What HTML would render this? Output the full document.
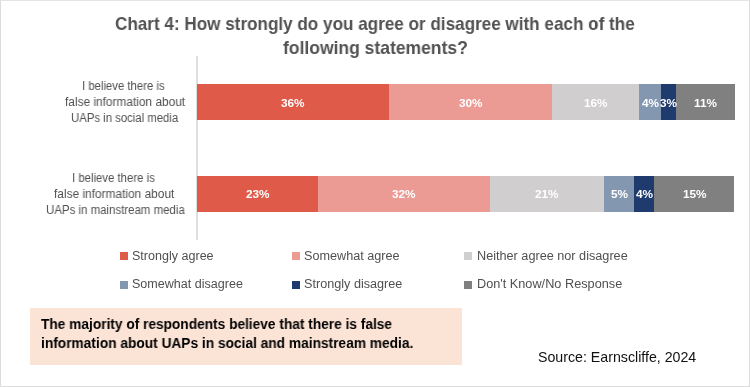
<!DOCTYPE html>
<html><head><meta charset="utf-8"><style>
html,body{margin:0;padding:0;}
body{width:750px;height:387px;position:relative;overflow:hidden;background:#fff;font-family:"Liberation Sans",sans-serif;}
.frame{position:absolute;left:0;top:0;width:748px;height:385px;border:1px solid #dcdcdc;border-top-color:#e4e4e4;}
.r{position:absolute;}
.t{position:absolute;white-space:nowrap;transform-origin:0 0;will-change:transform;}
.axis{position:absolute;left:196px;top:55.5px;width:1.5px;height:184.5px;background:#dedede;}
</style></head><body>
<div class="frame"></div>
<div class="axis"></div>
<div class="r" style="left:197px;top:84px;width:192.00px;height:35.5px;background:#E05A4A"></div>
<div class="r" style="left:389px;top:84px;width:163.00px;height:35.5px;background:#EB9B94"></div>
<div class="r" style="left:552px;top:84px;width:87.00px;height:35.5px;background:#D0CECE"></div>
<div class="r" style="left:639px;top:84px;width:22.20px;height:35.5px;background:#8497B0"></div>
<div class="r" style="left:661.2px;top:84px;width:14.70px;height:35.5px;background:#1F3A6C"></div>
<div class="r" style="left:675.9px;top:84px;width:58.90px;height:35.5px;background:#808080"></div>
<div class="r" style="left:197px;top:176px;width:121.00px;height:35.5px;background:#E05A4A"></div>
<div class="r" style="left:318px;top:176px;width:172.10px;height:35.5px;background:#EB9B94"></div>
<div class="r" style="left:490.1px;top:176px;width:114.20px;height:35.5px;background:#D0CECE"></div>
<div class="r" style="left:604.3px;top:176px;width:29.70px;height:35.5px;background:#8497B0"></div>
<div class="r" style="left:634px;top:176px;width:20.30px;height:35.5px;background:#1F3A6C"></div>
<div class="r" style="left:654.3px;top:176px;width:80.00px;height:35.5px;background:#808080"></div>
<div class="r" style="left:120px;top:252px;width:8px;height:8px;background:#E05A4A"></div>
<div class="r" style="left:292px;top:252px;width:8px;height:8px;background:#EB9B94"></div>
<div class="r" style="left:464px;top:252px;width:8px;height:8px;background:#D0CECE"></div>
<div class="r" style="left:120px;top:280.7px;width:8px;height:8px;background:#8497B0"></div>
<div class="r" style="left:292px;top:280.7px;width:8px;height:8px;background:#1F3A6C"></div>
<div class="r" style="left:464px;top:280.7px;width:8px;height:8px;background:#808080"></div>
<div class="r" style="left:30px;top:308px;width:432px;height:57px;background:#FBE3D6"></div>
<div class="t" style="left:115.00px;top:14.89px;font-size:18.2px;line-height:18.2px;font-weight:bold;color:#525252;transform:scaleX(0.9401);">Chart 4: How strongly do you agree or disagree with each of the</div>
<div class="t" style="left:282.50px;top:39.39px;font-size:18.2px;line-height:18.2px;font-weight:bold;color:#525252;transform:scaleX(0.9625);">following statements?</div>
<div class="t" style="left:82.00px;top:80.14px;font-size:12px;line-height:12px;font-weight:normal;color:#505050;transform:scaleX(0.9451);">I believe there is</div>
<div class="t" style="left:64.50px;top:96.04px;font-size:12px;line-height:12px;font-weight:normal;color:#505050;transform:scaleX(0.9893);">false information about</div>
<div class="t" style="left:71.00px;top:112.44px;font-size:12px;line-height:12px;font-weight:normal;color:#505050;transform:scaleX(0.9453);">UAPs in social media</div>
<div class="t" style="left:72.10px;top:172.14px;font-size:12px;line-height:12px;font-weight:normal;color:#505050;transform:scaleX(0.9474);">I believe there is</div>
<div class="t" style="left:53.60px;top:187.64px;font-size:12px;line-height:12px;font-weight:normal;color:#505050;transform:scaleX(0.9909);">false information about</div>
<div class="t" style="left:45.80px;top:203.84px;font-size:12px;line-height:12px;font-weight:normal;color:#505050;transform:scaleX(0.9546);">UAPs in mainstream media</div>
<div class="t" style="left:281.20px;top:97.51px;font-size:11.8px;line-height:11.8px;font-weight:bold;color:#ffffff;transform:scaleX(1.0000);">36%</div>
<div class="t" style="left:458.70px;top:97.51px;font-size:11.8px;line-height:11.8px;font-weight:bold;color:#ffffff;transform:scaleX(1.0000);">30%</div>
<div class="t" style="left:583.70px;top:97.51px;font-size:11.8px;line-height:11.8px;font-weight:bold;color:#ffffff;transform:scaleX(1.0000);">16%</div>
<div class="t" style="left:641.58px;top:97.51px;font-size:11.8px;line-height:11.8px;font-weight:bold;color:#ffffff;transform:scaleX(1.0000);">4%</div>
<div class="t" style="left:660.02px;top:97.51px;font-size:11.8px;line-height:11.8px;font-weight:bold;color:#ffffff;transform:scaleX(1.0000);">3%</div>
<div class="t" style="left:693.87px;top:97.51px;font-size:11.8px;line-height:11.8px;font-weight:bold;color:#ffffff;transform:scaleX(1.0000);">11%</div>
<div class="t" style="left:245.70px;top:189.11px;font-size:11.8px;line-height:11.8px;font-weight:bold;color:#ffffff;transform:scaleX(1.0000);">23%</div>
<div class="t" style="left:392.25px;top:189.11px;font-size:11.8px;line-height:11.8px;font-weight:bold;color:#ffffff;transform:scaleX(1.0000);">32%</div>
<div class="t" style="left:535.40px;top:189.11px;font-size:11.8px;line-height:11.8px;font-weight:bold;color:#ffffff;transform:scaleX(1.0000);">21%</div>
<div class="t" style="left:610.62px;top:189.11px;font-size:11.8px;line-height:11.8px;font-weight:bold;color:#ffffff;transform:scaleX(1.0000);">5%</div>
<div class="t" style="left:635.62px;top:189.11px;font-size:11.8px;line-height:11.8px;font-weight:bold;color:#ffffff;transform:scaleX(1.0000);">4%</div>
<div class="t" style="left:682.50px;top:189.11px;font-size:11.8px;line-height:11.8px;font-weight:bold;color:#ffffff;transform:scaleX(1.0000);">15%</div>
<div class="t" style="left:131.60px;top:250.32px;font-size:12.5px;line-height:12.5px;font-weight:normal;color:#505050;transform:scaleX(1.0037);">Strongly agree</div>
<div class="t" style="left:303.90px;top:250.32px;font-size:12.5px;line-height:12.5px;font-weight:normal;color:#505050;transform:scaleX(1.0116);">Somewhat agree</div>
<div class="t" style="left:476.60px;top:250.32px;font-size:12.5px;line-height:12.5px;font-weight:normal;color:#505050;transform:scaleX(1.0134);">Neither agree nor disagree</div>
<div class="t" style="left:131.60px;top:278.42px;font-size:12.5px;line-height:12.5px;font-weight:normal;color:#505050;transform:scaleX(1.0037);">Somewhat disagree</div>
<div class="t" style="left:303.90px;top:278.42px;font-size:12.5px;line-height:12.5px;font-weight:normal;color:#505050;transform:scaleX(1.0113);">Strongly disagree</div>
<div class="t" style="left:476.60px;top:278.42px;font-size:12.5px;line-height:12.5px;font-weight:normal;color:#505050;transform:scaleX(1.0172);">Don't Know/No Response</div>
<div class="t" style="left:41.00px;top:316.85px;font-size:14px;line-height:14px;font-weight:bold;color:#000000;transform:scaleX(0.9787);">The majority of respondents believe that there is false</div>
<div class="t" style="left:41.00px;top:336.15px;font-size:14px;line-height:14px;font-weight:bold;color:#000000;transform:scaleX(0.9806);">information about UAPs in social and mainstream media.</div>
<div class="t" style="left:537.50px;top:349.98px;font-size:14.2px;line-height:14.2px;font-weight:normal;color:#111111;transform:scaleX(1.0000);">Source: Earnscliffe, 2024</div>
</body></html>
